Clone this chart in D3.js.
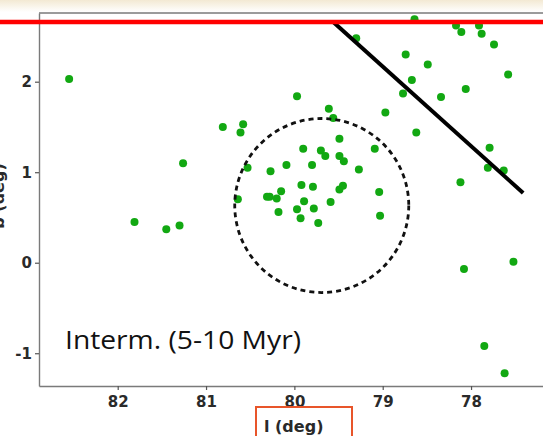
<!DOCTYPE html>
<html>
<head>
<meta charset="utf-8">
<script src="https://cdn.jsdelivr.net/npm/d3@7"></script>
<style>
  html, body { margin: 0; padding: 0; background: #fff; }
  svg { display: block; }
</style>
</head>
<body>
<svg id="chart" width="543" height="436"></svg>
<script>
// Galactic longitude / latitude of the intermediate-age (5-10 Myr) sources
const lonDeg = [
  82.55, 80.81, 80.58, 80.61, 81.26, 80.53, 80.27, 80.09, 80.64, 80.31,
  80.28, 80.20, 80.15, 80.18, 81.81, 81.45, 81.30, 79.61, 79.56, 78.97,
  78.62, 79.49, 79.90, 79.70, 79.65, 79.49, 79.44, 79.09, 79.80, 79.27,
  79.92, 79.79, 79.49, 79.45, 79.04, 79.89, 79.59, 79.97, 79.78, 79.93,
  79.73, 79.03, 78.64, 78.17, 77.91, 78.11, 77.88, 77.74, 79.30, 78.74,
  78.49, 77.58, 78.67, 78.77, 78.34, 78.06, 79.97, 77.79, 77.81, 77.63,
  78.12, 78.08, 77.52, 77.85, 77.62
];
const latDeg = [
  2.03, 1.50, 1.53, 1.44, 1.10, 1.05, 1.01, 1.08, 0.70, 0.73,
  0.73, 0.71, 0.79, 0.56, 0.45, 0.37, 0.41, 1.70, 1.60, 1.66,
  1.44, 1.37, 1.26, 1.24, 1.18, 1.18, 1.12, 1.26, 1.08, 1.03,
  0.86, 0.84, 0.81, 0.85, 0.78, 0.68, 0.67, 0.59, 0.60, 0.49,
  0.44, 0.52, 2.69, 2.62, 2.62, 2.55, 2.53, 2.41, 2.48, 2.30,
  2.19, 2.08, 2.02, 1.87, 1.83, 1.92, 1.84, 1.27, 1.05, 1.02,
  0.89, -0.07, 0.01, -0.92, -1.22
];

const xTicks = [82, 81, 80, 79, 78];
const yTicks = [2, 1, 0, -1];

// Overlays: latitude cut, diagonal boundary, and the cluster circle
const cutLat = 2.66;
const boundaryLon = [79.56, 77.41];
const boundaryLat = [2.66, 0.77];
const circleLon = 79.69, circleLat = 0.632, circleRadius = 0.985;

const panelLabel = "Interm. (5-10 Myr)";
const xLabel = "l (deg)";
const yLabel = "b (deg)";

(function draw() {
  const W = 543, H = 436;
  const svg = d3.select("#chart");

  // faint warm tint along the top edge
  const defs = svg.append("defs");
  const grad = defs.append("linearGradient").attr("id", "topTint")
    .attr("x1", 0).attr("y1", 0).attr("x2", 0).attr("y2", 1);
  grad.append("stop").attr("offset", "0%").attr("stop-color", "#f3e9d3");
  grad.append("stop").attr("offset", "100%").attr("stop-color", "#ffffff");
  svg.append("rect").attr("x", 0).attr("y", 0).attr("width", W).attr("height", 12)
    .attr("fill", "url(#topTint)");

  const pLeft = 39, pTop = 13, pBottom = 386, pRight = 560;
  const x = d3.scaleLinear().domain([82.891, 76.993]).range([pLeft, pRight]);
  const y = d3.scaleLinear().domain([2.759, -1.362]).range([pTop, pBottom]);

  const axisColor = "#7a7a7a";
  const plain = d => String(d);   // hyphen-minus, as on the axis labels

  // frame (top edge)
  svg.append("line")
    .attr("x1", pLeft).attr("x2", pRight).attr("y1", pTop).attr("y2", pTop)
    .attr("stroke", axisColor).attr("stroke-width", 1.4);

  const xAxis = svg.append("g")
    .attr("transform", `translate(0,${pBottom})`)
    .call(d3.axisBottom(x).tickValues(xTicks).tickSize(4).tickSizeOuter(0).tickPadding(6)
      .tickFormat(plain));
  const yAxis = svg.append("g")
    .attr("transform", `translate(${pLeft},0)`)
    .call(d3.axisLeft(y).tickValues(yTicks).tickSize(4).tickSizeOuter(0).tickPadding(3)
      .tickFormat(plain));

  [xAxis, yAxis].forEach(g => {
    g.select(".domain").attr("stroke", axisColor).attr("stroke-width", 1.4);
    g.selectAll(".tick line").attr("stroke", "#555").attr("stroke-width", 1.2);
    g.selectAll(".tick text")
      .attr("fill", "#2a2a2a")
      .style("font-family", "'DejaVu Sans', sans-serif")
      .style("font-weight", "bold")
      .style("font-size", "15px");
  });

  // data points
  svg.append("g").selectAll("circle")
    .data(lonDeg.map((l, i) => ({ l, b: latDeg[i] })))
    .join("circle")
    .attr("cx", d => x(d.l))
    .attr("cy", d => y(d.b))
    .attr("r", 4)
    .attr("fill", "#12a812");

  // dashed cluster circle
  svg.append("circle")
    .attr("cx", x(circleLon)).attr("cy", y(circleLat))
    .attr("r", Math.abs(x(circleLon + circleRadius) - x(circleLon)))
    .attr("fill", "none").attr("stroke", "#111")
    .attr("stroke-width", 2.8).attr("stroke-dasharray", "5,4");

  // diagonal boundary
  svg.append("line")
    .attr("x1", x(boundaryLon[0])).attr("y1", y(boundaryLat[0]))
    .attr("x2", x(boundaryLon[1])).attr("y2", y(boundaryLat[1]))
    .attr("stroke", "#000").attr("stroke-width", 4).attr("stroke-linecap", "butt");

  // latitude cut across the full width
  svg.append("line")
    .attr("x1", 0).attr("x2", W).attr("y1", y(cutLat)).attr("y2", y(cutLat))
    .attr("stroke", "#ff0000").attr("stroke-width", 4.5);

  // panel label
  svg.append("text")
    .attr("x", 65).attr("y", 349)
    .attr("textLength", 236).attr("lengthAdjust", "spacingAndGlyphs")
    .attr("fill", "#111")
    .style("font-family", "'Open Sans', sans-serif")
    .style("font-size", "26px")
    .text(panelLabel);

  // x-axis title with its highlight box
  svg.append("rect")
    .attr("x", 256).attr("y", 407).attr("width", 96).attr("height", 40)
    .attr("fill", "none").attr("stroke", "#e8552a").attr("stroke-width", 2);
  svg.append("text")
    .attr("x", 264).attr("y", 432)
    .attr("fill", "#2a2a2a")
    .style("font-family", "'DejaVu Sans', sans-serif")
    .style("font-weight", "bold")
    .style("font-size", "16px")
    .text(xLabel);

  // y-axis title, sitting against the left edge
  svg.append("text")
    .attr("transform", "translate(4,196) rotate(-90)")
    .attr("text-anchor", "middle")
    .attr("fill", "#2a2a2a")
    .style("font-family", "'DejaVu Sans', sans-serif")
    .style("font-weight", "bold")
    .style("font-size", "16px")
    .text(yLabel);
})();
</script>
</body>
</html>
